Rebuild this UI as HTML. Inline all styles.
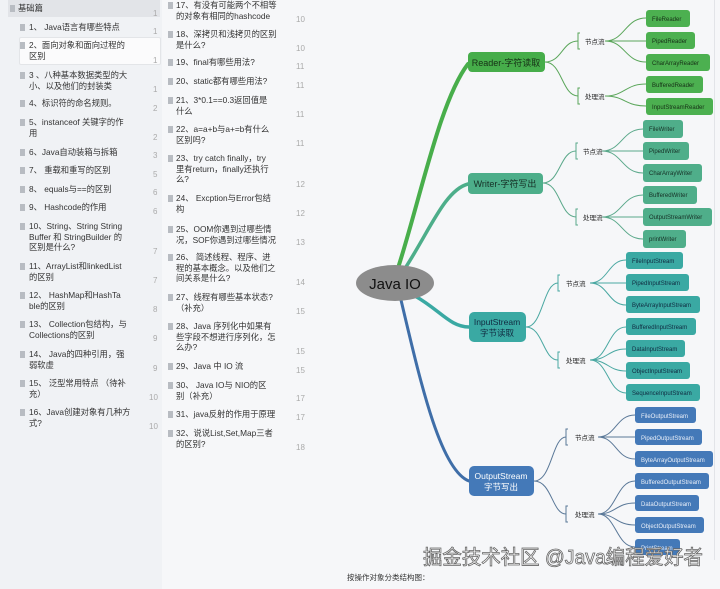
<!DOCTYPE html>
<html><head><meta charset="utf-8"><style>
html,body{margin:0;padding:0;}
body{width:720px;height:589px;position:relative;overflow:hidden;background:#f6f7f9;font-family:"Liberation Sans","Noto Sans CJK SC",sans-serif;color:#333;}
.lp{position:absolute;left:0;top:0;width:162px;height:589px;background:#f0f2f5;}
.t{position:absolute;font-size:8.3px;line-height:10.6px;color:#333;white-space:nowrap;}
.n{position:absolute;font-size:8px;color:#aaa;}
.ic{position:absolute;width:5px;height:7px;background:#b8bcc2;}
svg{position:absolute;left:0;top:0;}
</style></head><body>
<div class="lp"></div>
<div style="position:absolute;left:8px;top:0;width:152px;height:17px;background:#e2e4e8;"></div>
<div style="position:absolute;left:19px;top:37px;width:140px;height:26px;background:#fbfbfc;border:1px solid #e3e5e8;border-radius:2px;"></div>

<div class="ic" style="left:10px;top:5px"></div><div class="t" style="left:18px;top:3px">基础篇</div>
<div class="ic" style="left:20px;top:24px"></div><div class="t" style="left:29px;top:22px">1、 Java语言有哪些特点</div>
<div class="ic" style="left:20px;top:42px"></div><div class="t" style="left:29px;top:40px">2、面向对象和面向过程的<br>区别</div>
<div class="ic" style="left:20px;top:72px"></div><div class="t" style="left:29px;top:70px">3 、八种基本数据类型的大<br>小、以及他们的封装类</div>
<div class="ic" style="left:20px;top:100px"></div><div class="t" style="left:29px;top:98px">4、标识符的命名规则。</div>
<div class="ic" style="left:20px;top:119px"></div><div class="t" style="left:29px;top:117px">5、instanceof 关键字的作<br>用</div>
<div class="ic" style="left:20px;top:149px"></div><div class="t" style="left:29px;top:147px">6、Java自动装箱与拆箱</div>
<div class="ic" style="left:20px;top:167px"></div><div class="t" style="left:29px;top:165px">7、 重载和重写的区别</div>
<div class="ic" style="left:20px;top:186px"></div><div class="t" style="left:29px;top:184px">8、 equals与==的区别</div>
<div class="ic" style="left:20px;top:204px"></div><div class="t" style="left:29px;top:202px">9、 Hashcode的作用</div>
<div class="ic" style="left:20px;top:223px"></div><div class="t" style="left:29px;top:221px">10、String、String String<br>Buffer 和 StringBuilder 的<br>区别是什么?</div>
<div class="ic" style="left:20px;top:263px"></div><div class="t" style="left:29px;top:261px">11、ArrayList和linkedList<br>的区别</div>
<div class="ic" style="left:20px;top:292px"></div><div class="t" style="left:29px;top:290px">12、 HashMap和HashTa<br>ble的区别</div>
<div class="ic" style="left:20px;top:321px"></div><div class="t" style="left:29px;top:319px">13、 Collection包结构，与<br>Collections的区别</div>
<div class="ic" style="left:20px;top:351px"></div><div class="t" style="left:29px;top:349px">14、 Java的四种引用，强<br>弱软虚</div>
<div class="ic" style="left:20px;top:380px"></div><div class="t" style="left:29px;top:378px">15、 泛型常用特点 （待补<br>充）</div>
<div class="ic" style="left:20px;top:409px"></div><div class="t" style="left:29px;top:407px">16、Java创建对象有几种方<br>式?</div>

<div class="n" style="left:153px;top:9px">1</div>
<div class="n" style="left:153px;top:27px">1</div>
<div class="n" style="left:153px;top:56px">1</div>
<div class="n" style="left:153px;top:85px">1</div>
<div class="n" style="left:153px;top:104px">2</div>
<div class="n" style="left:153px;top:133px">2</div>
<div class="n" style="left:153px;top:151px">3</div>
<div class="n" style="left:153px;top:170px">5</div>
<div class="n" style="left:153px;top:188px">6</div>
<div class="n" style="left:153px;top:207px">6</div>
<div class="n" style="left:153px;top:247px">7</div>
<div class="n" style="left:153px;top:276px">7</div>
<div class="n" style="left:153px;top:305px">8</div>
<div class="n" style="left:153px;top:334px">9</div>
<div class="n" style="left:153px;top:364px">9</div>
<div class="n" style="left:149px;top:393px">10</div>
<div class="n" style="left:149px;top:422px">10</div>

<div class="ic" style="left:168px;top:2px"></div><div class="t" style="left:176px;top:0px">17、有没有可能两个不相等<br>的对象有相同的hashcode</div>
<div class="ic" style="left:168px;top:31px"></div><div class="t" style="left:176px;top:29px">18、深拷贝和浅拷贝的区别<br>是什么?</div>
<div class="ic" style="left:168px;top:59px"></div><div class="t" style="left:176px;top:57px">19、final有哪些用法?</div>
<div class="ic" style="left:168px;top:78px"></div><div class="t" style="left:176px;top:76px">20、static都有哪些用法?</div>
<div class="ic" style="left:168px;top:97px"></div><div class="t" style="left:176px;top:95px">21、3*0.1==0.3返回值是<br>什么</div>
<div class="ic" style="left:168px;top:126px"></div><div class="t" style="left:176px;top:124px">22、a=a+b与a+=b有什么<br>区别吗?</div>
<div class="ic" style="left:168px;top:155px"></div><div class="t" style="left:176px;top:153px">23、try catch finally，try<br>里有return，finally还执行<br>么?</div>
<div class="ic" style="left:168px;top:195px"></div><div class="t" style="left:176px;top:193px">24、 Excption与Error包结<br>构</div>
<div class="ic" style="left:168px;top:226px"></div><div class="t" style="left:176px;top:224px">25、OOM你遇到过哪些情<br>况，SOF你遇到过哪些情况</div>
<div class="ic" style="left:168px;top:254px"></div><div class="t" style="left:176px;top:252px">26、 简述线程、程序、进<br>程的基本概念。以及他们之<br>间关系是什么?</div>
<div class="ic" style="left:168px;top:294px"></div><div class="t" style="left:176px;top:292px">27、线程有哪些基本状态?<br>（补充）</div>
<div class="ic" style="left:168px;top:323px"></div><div class="t" style="left:176px;top:321px">28、Java 序列化中如果有<br>些字段不想进行序列化，怎<br>么办?</div>
<div class="ic" style="left:168px;top:363px"></div><div class="t" style="left:176px;top:361px">29、Java 中 IO 流</div>
<div class="ic" style="left:168px;top:382px"></div><div class="t" style="left:176px;top:380px">30、 Java IO与 NIO的区<br>别（补充）</div>
<div class="ic" style="left:168px;top:411px"></div><div class="t" style="left:176px;top:409px">31、java反射的作用于原理</div>
<div class="ic" style="left:168px;top:430px"></div><div class="t" style="left:176px;top:428px">32、说说List,Set,Map三者<br>的区别?</div>

<div class="n" style="left:296px;top:15px">10</div>
<div class="n" style="left:296px;top:44px">10</div>
<div class="n" style="left:296px;top:62px">11</div>
<div class="n" style="left:296px;top:81px">11</div>
<div class="n" style="left:296px;top:110px">11</div>
<div class="n" style="left:296px;top:139px">11</div>
<div class="n" style="left:296px;top:180px">12</div>
<div class="n" style="left:296px;top:209px">12</div>
<div class="n" style="left:296px;top:238px">13</div>
<div class="n" style="left:296px;top:278px">14</div>
<div class="n" style="left:296px;top:307px">15</div>
<div class="n" style="left:296px;top:347px">15</div>
<div class="n" style="left:296px;top:366px">15</div>
<div class="n" style="left:296px;top:394px">17</div>
<div class="n" style="left:296px;top:413px">17</div>
<div class="n" style="left:296px;top:443px">18</div>

<div style="position:absolute;left:714px;top:0;width:1px;height:560px;background:#e2e4e8"></div>

<svg width="720" height="589" viewBox="0 0 720 589" font-family="Liberation Sans, Noto Sans CJK SC, sans-serif">
<g fill="none" stroke-linecap="round">
<path d="M398 268 C420 200 440 100 468 64" stroke="#48ae4b" stroke-width="4"/>
<path d="M404 270 C430 230 445 190 468 184" stroke="#4dae8a" stroke-width="3.5"/>
<path d="M415 296 C440 310 450 327 469 327" stroke="#3aa9a3" stroke-width="3.5"/>
<path d="M401 300 C420 380 440 470 469 481" stroke="#3f6ea8" stroke-width="3"/>
</g>
<ellipse cx="395" cy="283" rx="39" ry="18" fill="#8c8c8c"/>
<text x="395" y="289" font-size="15" text-anchor="middle" fill="#111">Java IO</text>

<g fill="none" stroke-width="1">
<g stroke="#5aa65a">
<path d="M545 62 C562 62 562 41 578 41"/><path d="M545 62 C562 62 562 96 578 96"/>
<path d="M580 33 h-2 v16 h2 M580 88 h-2 v16 h2"/>
<path d="M605 41 C625 41 625 18 646 18"/><path d="M605 41 H646"/><path d="M605 41 C625 41 625 62 646 62"/>
<path d="M605 96 C625 96 625 84 646 84"/><path d="M605 96 C625 96 625 106 646 106"/>
</g>
<g stroke="#5aa88a">
<path d="M543 183 C560 183 560 151 576 151"/><path d="M543 183 C560 183 560 217 576 217"/>
<path d="M578 143 h-2 v16 h2 M578 209 h-2 v16 h2"/>
<path d="M602 151 C622 151 622 129 643 129"/><path d="M602 151 H643"/><path d="M602 151 C622 151 622 173 643 173"/>
<path d="M602 217 C622 217 622 195 643 195"/><path d="M602 217 H643"/><path d="M602 217 C622 217 622 239 643 239"/>
</g>
<g stroke="#4aa8a2">
<path d="M526 327 C543 327 543 283 558 283"/><path d="M526 327 C543 327 543 360 558 360"/>
<path d="M560 275 h-2 v16 h2 M560 352 h-2 v16 h2"/>
<path d="M590 283 C608 283 608 260 626 260"/><path d="M590 283 H626"/><path d="M590 283 C608 283 608 305 626 305"/>
<path d="M590 360 C608 360 608 327 626 327"/><path d="M590 360 C608 360 608 349 626 349"/><path d="M590 360 C608 360 608 371 626 371"/><path d="M590 360 C608 360 608 393 626 393"/>
</g>
<g stroke="#5a7898">
<path d="M534 481 C552 481 552 437 566 437"/><path d="M534 481 C552 481 552 514 566 514"/>
<path d="M568 429 h-2 v16 h2 M568 506 h-2 v16 h2"/>
<path d="M598 437 C616 437 616 415 635 415"/><path d="M598 437 H635"/><path d="M598 437 C616 437 616 459 635 459"/>
<path d="M598 514 C616 514 616 481 635 481"/><path d="M598 514 C616 514 616 503 635 503"/><path d="M598 514 C616 514 616 525 635 525"/><path d="M598 514 C616 514 616 547 635 547"/>
</g>
</g>

<g font-size="6.5" fill="#222">
<text x="585" y="44">节点流</text><text x="585" y="99">处理流</text>
<text x="583" y="154">节点流</text><text x="583" y="220">处理流</text>
<text x="566" y="286">节点流</text><text x="566" y="363">处理流</text>
<text x="575" y="440">节点流</text><text x="575" y="517">处理流</text>
</g>

<rect x="468" y="52" width="77" height="20" rx="4" fill="#46ad4a"/>
<text x="506" y="66" font-size="9" text-anchor="middle" fill="#163016">Reader-字符读取</text>
<rect x="468" y="173" width="75" height="21" rx="4" fill="#4dae8a"/>
<text x="505" y="187" font-size="9" text-anchor="middle" fill="#163026">Writer-字符写出</text>
<rect x="469" y="312" width="57" height="30" rx="5" fill="#3aa9a3"/>
<text x="497" y="325" font-size="8.5" text-anchor="middle" fill="#102a40">InputStream</text>
<text x="497" y="336" font-size="8.5" text-anchor="middle" fill="#102a40">字节读取</text>
<rect x="469" y="466" width="65" height="30" rx="5" fill="#4479b8"/>
<text x="501" y="479" font-size="8.5" text-anchor="middle" fill="#fff">OutputStream</text>
<text x="501" y="490" font-size="8.5" text-anchor="middle" fill="#fff">字节写出</text>

<g font-size="6">
<g fill="#4cb050"><rect x="646" y="10" width="44" height="17" rx="3"/><rect x="646" y="32" width="49" height="17" rx="3"/><rect x="646" y="54" width="64" height="17" rx="3"/><rect x="646" y="76" width="57" height="17" rx="3"/><rect x="646" y="98" width="67" height="17" rx="3"/></g>
<g fill="#163016"><text x="652" y="21">FileReader</text><text x="652" y="43">PipedReader</text><text x="652" y="65">CharArrayReader</text><text x="652" y="87">BufferedReader</text><text x="652" y="109">InputStreamReader</text></g>
<g fill="#4fae8a"><rect x="643" y="120" width="40" height="18" rx="3"/><rect x="643" y="142" width="46" height="18" rx="3"/><rect x="643" y="164" width="59" height="18" rx="3"/><rect x="643" y="186" width="54" height="18" rx="3"/><rect x="643" y="208" width="69" height="18" rx="3"/><rect x="643" y="230" width="43" height="18" rx="3"/></g>
<g fill="#163026"><text x="649" y="131">FileWriter</text><text x="649" y="153">PipedWriter</text><text x="649" y="175">CharArrayWriter</text><text x="649" y="197">BufferedWriter</text><text x="649" y="219">OutputStreamWriter</text><text x="649" y="241">printWriter</text></g>
<g fill="#3aa9a3"><rect x="626" y="252" width="57" height="17" rx="3"/><rect x="626" y="274" width="63" height="17" rx="3"/><rect x="626" y="296" width="74" height="17" rx="3"/><rect x="626" y="318" width="70" height="17" rx="3"/><rect x="626" y="340" width="59" height="17" rx="3"/><rect x="626" y="362" width="64" height="17" rx="3"/><rect x="626" y="384" width="74" height="17" rx="3"/></g>
<g fill="#102a40"><text x="632" y="263">FileInputStream</text><text x="632" y="285">PipedInputStream</text><text x="632" y="307">ByteArrayInputStream</text><text x="632" y="329">BufferedInputStream</text><text x="632" y="351">DataInputStream</text><text x="632" y="373">ObjectInputStream</text><text x="632" y="395">SequenceInputStream</text></g>
<g fill="#4479b8"><rect x="635" y="407" width="61" height="16" rx="3"/><rect x="635" y="429" width="67" height="16" rx="3"/><rect x="635" y="451" width="78" height="16" rx="3"/><rect x="635" y="473" width="74" height="16" rx="3"/><rect x="635" y="495" width="64" height="16" rx="3"/><rect x="635" y="517" width="69" height="16" rx="3"/><rect x="635" y="539" width="45" height="16" rx="3"/></g>
<g fill="#e8eef8"><text x="641" y="418">FileOutputStream</text><text x="641" y="440">PipedOutputStream</text><text x="641" y="462">ByteArrayOutputStream</text><text x="641" y="484">BufferedOutputStream</text><text x="641" y="506">DataOutputStream</text><text x="641" y="528">ObjectOutputStream</text><text x="641" y="550">PrintStream</text></g>
</g>

<text x="423" y="564" font-size="20" fill="#fff" stroke="#666" stroke-width="0.8" textLength="280" lengthAdjust="spacingAndGlyphs">掘金技术社区 @Java编程爱好者</text>
<text x="347" y="580" font-size="7.5" fill="#333">按操作对象分类结构图：</text>
</svg>
</body></html>
